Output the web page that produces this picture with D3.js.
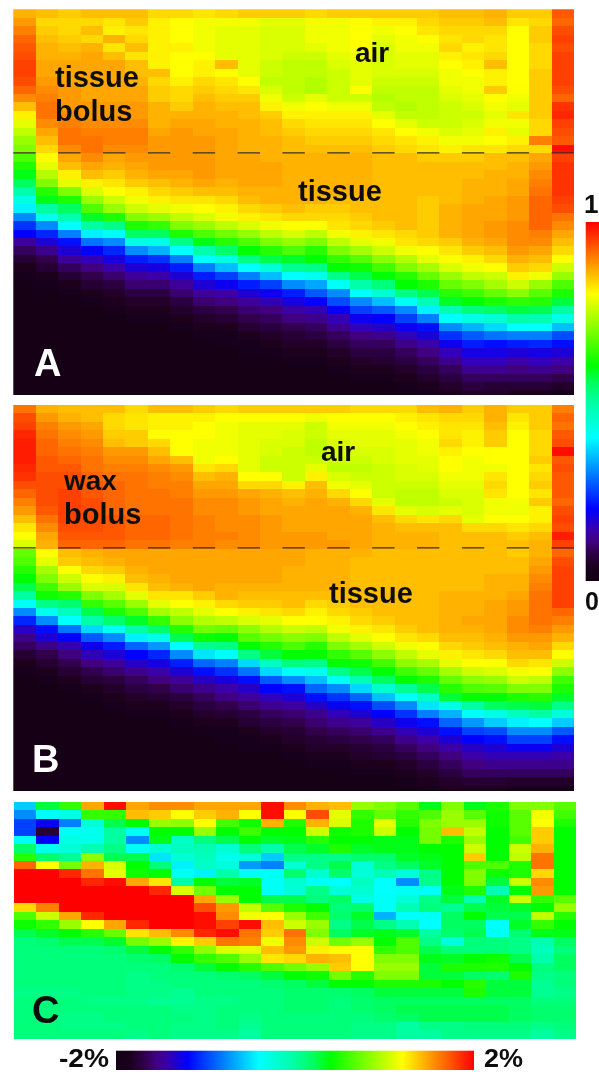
<!DOCTYPE html>
<html>
<head>
<meta charset="utf-8">
<script src="https://cdn.jsdelivr.net/npm/d3@7"></script>
<style>
  html, body { margin: 0; padding: 0; background: #fff; overflow: hidden; }
  text { font-family: "Liberation Sans", Arial, sans-serif; font-weight: bold; }
</style>
</head>
<body>
<div id="chart"></div>
<script>
// colour index 0-100, one array per column, top row first

// panel A, tissue bolus
var tissueBolus = [
[86,88,90,92,93,94,95,95,94,92,89,85,81,78,75,72,70,66,62,59,55,49,43,39,31,24,20,13,9,6,4,3,2,2,2,1,1,1,1,1,1,1,1,1,1,1],
[85,83,84,85,86,86,87,87,88,89,90,91,91,89,87,85,83,80,78,74,70,63,59,50,42,31,23,17,12,8,6,4,3,2,2,2,1,1,1,1,1,1,1,1,1,1],
[84,83,83,84,85,86,87,87,87,88,88,88,89,90,91,91,89,87,85,81,78,70,62,55,48,40,30,21,17,13,9,6,4,3,2,2,2,1,1,1,1,1,1,1,1,1],
[85,83,85,83,86,87,87,87,87,87,87,88,88,89,90,91,91,89,87,85,81,77,72,66,58,50,39,29,20,15,11,8,6,4,3,2,2,1,1,1,1,1,1,1,1,1],
[85,82,81,86,82,85,87,87,87,87,87,88,88,89,90,90,89,87,86,84,82,80,76,72,62,52,41,31,23,18,14,10,7,5,4,3,2,2,1,1,1,1,1,1,1,1],
[85,84,82,83,85,82,85,85,86,87,87,88,88,89,90,90,89,88,87,86,84,81,79,76,70,62,55,43,31,22,17,13,10,7,5,4,3,2,2,1,1,1,1,1,1,1],
[83,81,81,81,81,81,81,85,83,84,84,86,86,86,87,88,88,88,88,87,85,83,81,78,72,64,55,43,34,24,18,14,10,7,5,4,3,2,2,1,1,1,1,1,1,1],
[83,80,80,80,81,80,80,80,81,83,83,84,86,87,88,88,88,88,88,87,86,84,82,79,75,70,62,52,40,30,22,17,13,10,7,5,4,3,2,2,1,1,1,1,1,1],
[82,79,79,79,79,80,81,81,83,84,85,86,86,87,87,88,88,88,88,88,87,85,82,80,77,72,66,59,49,40,30,22,17,13,10,7,5,4,3,2,2,1,1,1,1,1],
[83,79,78,78,78,78,85,80,82,83,84,85,86,86,87,87,87,87,87,87,86,85,83,81,79,75,69,63,54,43,35,25,19,14,11,8,6,4,3,3,2,2,1,1,1,1],
[84,79,78,78,78,78,78,78,80,82,84,85,85,86,86,86,86,87,87,87,87,86,85,83,81,77,72,66,60,52,40,30,22,17,13,10,8,6,4,3,3,2,2,1,1,1],
[84,78,77,77,77,77,76,76,75,77,79,81,84,85,85,86,86,86,87,87,87,86,86,84,82,79,75,70,63,56,44,35,25,19,15,11,9,7,5,4,3,2,2,1,1,1],
[84,78,77,77,77,76,75,75,75,75,76,79,81,83,84,85,85,86,86,86,86,86,86,85,83,80,77,72,66,58,51,40,31,22,18,14,11,8,6,5,4,3,2,2,1,1],
[83,79,79,79,78,76,75,75,74,74,78,80,81,82,83,84,85,86,86,86,86,86,86,84,83,80,75,70,63,60,52,42,33,27,20,15,12,9,7,5,4,3,2,2,1,1],
[84,79,79,79,79,78,77,76,76,76,76,79,81,82,83,84,85,86,86,86,86,86,85,84,83,82,79,75,70,64,60,52,41,31,26,20,15,12,9,7,5,4,3,2,2,1],
[84,80,80,80,80,79,78,78,78,80,76,79,81,82,83,84,85,86,86,86,86,86,85,85,84,83,81,78,73,67,61,56,49,40,31,25,19,15,11,9,7,5,4,3,2,2],
[84,81,79,78,77,77,77,77,76,75,74,75,78,80,82,83,84,85,85,85,85,85,85,85,85,84,82,79,76,71,65,60,53,45,35,27,20,16,12,9,7,6,4,3,2,2],
[84,81,80,79,79,78,78,77,76,75,75,74,75,78,80,82,83,85,85,85,85,85,85,85,85,85,83,82,79,74,70,63,60,52,41,31,25,19,15,12,9,7,5,4,3,2],
[84,83,82,80,79,78,78,77,76,75,75,75,75,76,79,81,82,84,85,85,85,85,84,84,84,84,84,83,80,78,73,68,62,56,48,39,30,21,17,14,11,9,7,5,4,3],
[85,84,83,82,83,81,80,79,79,78,77,76,76,76,77,79,81,84,85,85,85,85,85,86,86,86,86,84,82,80,77,72,68,63,58,48,40,31,24,19,15,12,9,7,5,4],
[85,84,83,83,81,82,81,80,79,79,78,77,76,77,78,79,82,84,85,85,86,86,86,87,87,87,87,86,84,81,79,75,70,65,60,53,43,34,27,22,18,15,12,9,7,5],
[86,85,83,82,82,83,85,81,81,84,80,79,78,79,81,80,82,85,85,86,86,86,87,87,87,88,88,87,85,83,80,76,73,68,62,55,44,37,29,21,18,15,12,9,6,5],
[84,82,80,80,80,80,80,80,80,80,79,78,82,79,78,81,83,85,86,86,87,87,88,88,88,89,89,89,88,86,84,81,76,71,64,57,49,40,30,22,17,14,11,9,6,4],
[84,83,84,84,83,83,83,84,84,84,84,84,84,83,83,90,83,87,88,89,90,91,92,92,92,92,90,89,87,85,83,79,72,67,63,56,48,40,30,23,18,15,12,9,6,4],
[93,92,94,95,94,95,95,95,95,94,92,96,97,95,94,93,99,95,96,96,96,96,95,94,91,89,87,85,83,80,76,72,66,62,57,50,43,35,26,21,17,14,11,8,5,3]
];

// panel B, wax bolus
var waxBolus = [
[91,94,95,97,98,98,98,97,96,94,92,90,88,85,82,80,77,68,66,63,60,56,50,41,31,23,16,12,9,6,4,3,2,2,2,1,1,1,1,1,1,1,1,1,1,1],
[86,88,90,91,92,92,93,93,94,94,94,94,93,91,89,87,86,80,78,73,70,65,61,52,42,31,21,17,12,8,6,4,3,2,2,2,1,1,1,1,1,1,1,1,1,1],
[85,86,88,89,90,91,92,93,94,94,95,95,95,95,94,93,92,85,84,80,76,72,63,54,47,40,29,20,15,11,8,6,4,3,2,2,2,1,1,1,1,1,1,1,1,1],
[85,85,87,88,89,90,91,91,92,93,93,94,94,94,94,93,92,86,85,83,80,77,70,64,56,49,37,27,19,15,11,8,6,4,3,2,2,1,1,1,1,1,1,1,1,1],
[85,83,83,84,85,88,89,90,91,92,92,92,92,93,93,93,92,87,86,84,81,77,73,67,62,54,41,31,22,17,13,10,7,5,4,3,2,2,1,1,1,1,1,1,1,1],
[83,82,82,84,84,88,89,90,91,91,91,91,91,92,92,92,91,87,87,86,85,82,78,72,66,58,49,39,28,20,16,12,9,7,5,4,3,2,2,1,1,1,1,1,1,1],
[85,81,81,80,83,85,87,89,90,90,91,91,91,92,92,92,91,87,87,87,86,85,82,78,73,64,54,42,32,23,18,14,11,8,6,4,3,2,2,1,1,1,1,1,1,1],
[85,81,81,80,80,80,85,88,89,90,90,91,91,91,91,91,90,87,87,87,87,86,82,80,75,71,63,56,40,31,22,17,13,10,7,5,4,3,2,2,1,1,1,1,1,1],
[84,81,80,80,79,79,79,82,85,87,88,89,89,90,90,90,90,87,87,87,87,87,84,81,78,74,69,61,51,38,28,21,16,12,9,7,5,4,3,2,2,1,1,1,1,1],
[83,80,79,79,79,79,80,83,86,87,88,89,89,89,89,90,89,87,87,87,87,86,86,83,80,75,68,60,52,41,30,24,18,14,11,8,6,4,3,3,2,2,1,1,1,1],
[84,80,78,78,78,78,78,78,80,83,87,88,88,89,89,89,89,87,87,87,87,86,85,84,81,77,71,67,60,52,37,29,21,16,13,10,7,6,4,3,3,2,2,1,1,1],
[84,80,78,78,77,77,76,76,80,83,86,87,87,88,88,88,88,87,87,87,87,86,85,84,82,78,74,69,63,57,46,37,27,20,15,12,9,7,5,4,3,2,2,1,1,1],
[84,80,78,77,77,76,76,76,76,81,85,86,87,87,87,88,88,87,87,86,86,86,85,85,83,80,76,71,66,60,53,41,31,21,17,13,10,8,6,5,4,3,2,2,1,1],
[84,79,76,76,75,75,76,78,81,85,86,87,87,87,87,88,88,86,86,86,86,86,85,83,81,80,75,70,63,60,52,42,35,28,21,16,12,10,8,6,5,4,3,2,2,1],
[84,80,79,78,77,77,76,75,77,79,83,86,87,87,87,87,88,86,86,86,86,86,85,84,83,81,79,75,70,64,60,52,41,31,24,19,15,12,9,7,5,4,3,2,2,1],
[83,80,79,78,78,77,76,75,76,78,80,83,86,87,87,87,87,86,85,85,85,85,85,85,84,83,81,78,73,67,61,56,48,37,28,21,17,13,10,8,6,5,4,3,2,2],
[83,80,79,78,78,77,77,76,76,76,76,78,82,85,86,86,86,85,85,85,85,85,85,85,85,84,82,80,76,71,65,60,55,45,35,26,20,16,12,9,7,6,4,3,2,2],
[83,81,80,79,78,78,78,77,77,76,75,75,78,83,85,86,86,85,85,85,85,85,85,85,85,85,84,82,79,75,71,65,60,51,41,31,24,19,15,12,9,7,5,4,3,2],
[85,82,81,80,79,79,78,78,77,76,75,75,77,82,85,86,86,85,85,85,85,85,85,85,85,85,85,83,80,78,73,68,62,56,46,38,30,21,17,14,11,9,7,5,4,3],
[86,83,82,82,83,81,80,80,79,78,77,76,78,83,85,85,85,85,85,85,85,85,86,86,86,86,86,85,83,81,78,73,68,63,57,43,34,28,21,17,14,11,9,7,5,4],
[84,83,82,81,81,80,79,79,79,78,77,77,77,78,83,85,85,85,85,85,85,85,86,86,86,87,86,85,84,82,80,76,71,66,60,50,41,32,25,20,16,14,11,9,6,4],
[86,86,85,84,84,80,80,79,82,83,82,79,79,80,83,85,85,85,85,85,86,86,86,87,87,87,87,86,85,83,80,77,72,67,60,55,43,36,26,21,17,15,12,9,6,4],
[84,82,81,80,80,80,80,80,80,80,80,79,79,80,82,84,85,84,85,85,86,86,87,88,88,89,89,88,86,85,83,79,76,70,62,56,47,39,31,25,19,15,12,9,5,3],
[84,84,84,83,83,83,84,82,83,84,82,84,81,81,83,85,86,86,87,88,89,90,91,91,91,91,90,88,87,85,82,80,75,70,63,57,50,40,31,25,19,15,12,9,5,3],
[90,92,91,93,94,99,93,94,93,93,93,92,94,95,94,98,95,92,94,95,95,95,95,95,92,90,88,86,83,80,76,71,65,62,58,52,44,36,27,21,17,14,12,9,5,3]
];

// panel C, difference of A and B, one array per row
var diffRows = [
[36,57,64,87,99,87,89,89,87,87,87,99,89,86,85,72,70,67,59,70,59,62,70,70,67],
[31,41,43,64,64,85,84,80,84,86,80,99,80,94,78,64,68,64,66,72,67,61,67,79,65],
[25,19,30,44,56,60,72,71,80,65,61,86,62,86,77,62,78,63,70,72,72,61,67,80,62],
[25,6,41,42,50,41,60,60,72,60,65,60,60,76,61,62,76,60,69,85,75,60,67,84,60],
[41,20,43,42,50,31,59,46,53,56,60,58,59,63,60,60,59,59,69,62,72,60,65,84,60],
[54,42,44,48,52,41,44,47,48,45,53,49,56,58,62,58,59,59,60,60,76,60,76,86,60],
[63,54,51,71,56,56,38,44,47,42,44,36,52,52,52,54,54,58,59,60,84,60,75,91,60],
[92,80,69,86,77,60,53,39,46,44,32,30,44,52,56,44,52,55,58,60,66,66,62,91,60],
[100,100,97,91,78,61,60,41,39,49,41,41,54,45,54,44,48,44,52,60,70,61,62,83,60],
[100,100,100,97,99,87,82,49,60,57,58,41,45,41,40,47,40,31,52,60,70,57,76,89,60],
[100,100,100,100,100,100,97,77,69,60,60,41,44,52,44,45,40,41,41,59,62,48,60,88,60],
[100,100,100,100,100,100,100,100,87,72,60,56,56,53,55,43,41,44,52,57,48,58,76,64,67],
[83,90,100,100,100,100,100,100,94,88,75,67,62,60,53,54,41,48,53,51,56,57,58,60,72],
[66,76,87,97,100,100,100,100,99,89,79,80,72,65,54,58,34,40,41,55,60,56,56,75,63],
[61,64,72,80,87,97,100,100,99,95,99,85,76,72,52,56,52,48,40,55,55,40,58,64,60],
[56,58,60,63,68,82,85,89,97,99,91,84,91,70,55,58,59,58,50,54,56,41,54,59,59],
[53,54,56,56,58,69,72,81,84,91,90,79,89,76,69,72,60,66,52,44,53,53,52,48,55],
[53,53,53,53,54,57,60,64,71,77,78,85,88,81,80,80,64,66,56,53,53,53,52,47,53],
[53,53,53,53,53,54,55,60,64,66,72,82,83,86,85,80,70,70,59,58,60,61,56,49,55],
[53,53,53,53,53,53,53,54,57,60,63,66,69,72,84,80,72,72,57,62,62,62,60,53,55],
[53,53,53,53,53,52,53,53,53,54,55,57,60,61,69,63,70,70,57,57,55,54,62,52,53],
[53,53,53,53,53,52,52,53,53,53,53,54,55,57,60,60,62,62,62,60,63,57,57,51,53],
[52,52,52,53,53,52,52,51,53,53,53,53,54,54,54,55,57,57,57,57,62,57,57,51,52],
[53,53,53,52,52,52,51,51,52,52,53,53,54,54,53,54,55,55,55,55,55,55,55,53,53],
[53,53,53,53,53,53,53,52,52,53,53,53,54,54,53,54,55,56,56,56,56,56,55,54,54],
[53,53,52,52,53,53,53,53,52,53,52,53,53,53,53,53,54,55,56,56,56,56,55,54,54],
[53,53,52,52,52,53,53,52,52,53,51,53,53,53,53,52,52,50,52,52,53,53,53,52,53],
[53,53,53,53,53,52,53,52,52,52,50,53,53,53,53,52,52,50,50,52,52,52,52,50,52]
];

var colourStops = [0, 4, 8, 11, 14, 20, 40, 50, 55, 60, 80, 100];
var colourNames = ['#140014', '#1a001e', '#30004c', '#400080', '#3a00a8', '#0000ff', '#00ffff', '#00ffa0', '#00ff60', '#00ff00', '#ffff00', '#ff0000'];

var doseLabels = ['1', '0'];
var diffLabels = ['-2%', '2%'];

var pageWidth = 599, pageHeight = 1072;
var rowPitch = 8.47;

var svg = d3.select('#chart')
    .append('svg')
    .attr('width', pageWidth)
    .attr('height', pageHeight);

var defs = svg.append('defs');

defs.append('filter')
    .attr('id', 'soft')
    .append('feGaussianBlur')
    .attr('stdDeviation', 0.7);

defs.append('filter')
    .attr('id', 'softText')
    .append('feGaussianBlur')
    .attr('stdDeviation', 0.35);

var colour = d3.scaleLinear().domain(colourStops).range(colourNames);

function addGradient(id, x2, y2) {
    var grad = defs.append('linearGradient')
        .attr('id', id)
        .attr('x1', 0).attr('y1', y2 ? 1 : 0)
        .attr('x2', x2).attr('y2', 0);
    grad.selectAll('stop')
        .data(colourStops)
        .enter()
        .append('stop')
        .attr('offset', function(d) { return d + '%'; })
        .attr('stop-color', function(d) { return colour(d); });
}
addGradient('barVertical', 0, 1);
addGradient('barHorizontal', 1, 0);

function drawPanel(id, columns, left, right, top, bottom) {
    var nRows = columns[0].length;
    var x = d3.scaleBand().domain(d3.range(columns.length)).range([left, right]);
    var y = d3.scaleBand().domain(d3.range(nRows)).range([top, top + nRows * rowPitch]);

    defs.append('clipPath').attr('id', 'clip' + id)
        .append('rect')
        .attr('x', left).attr('y', top)
        .attr('width', right - left).attr('height', bottom - top);

    var g = svg.append('g')
        .attr('clip-path', 'url(#clip' + id + ')')
        .append('g')
        .attr('filter', 'url(#soft)');

    columns.forEach(function(col, c) {
        g.selectAll('.c' + c)
            .data(col)
            .enter()
            .append('rect')
            .attr('x', x(c))
            .attr('y', function(d, r) { return y(r); })
            .attr('width', x.bandwidth() + 0.6)
            .attr('height', y.bandwidth() + 0.6)
            .attr('shape-rendering', 'crispEdges')
            .attr('fill', function(d) { return colour(d); });
    });
    return x;
}

function dashedLine(x, yPos) {
    var step = x.bandwidth();
    svg.append('line')
        .attr('x1', x.range()[0]).attr('x2', x.range()[1])
        .attr('y1', yPos).attr('y2', yPos)
        .attr('stroke', '#3a3028')
        .attr('stroke-width', 1.2)
        .attr('stroke-dasharray', step + ' ' + step);
}

function label(str, xPos, yPos, size, fill, len) {
    var t = svg.append('text')
        .attr('x', xPos).attr('y', yPos)
        .attr('font-size', size)
        .attr('fill', fill || '#111')
        .attr('filter', 'url(#softText)')
        .text(str);
    if (len) t.attr('textLength', len).attr('lengthAdjust', 'spacingAndGlyphs');
}

var xA = drawPanel('A', tissueBolus, 13.3, 574, 9.3, 395);
var xB = drawPanel('B', waxBolus, 13.3, 574, 404.7, 791);
drawPanel('C', d3.transpose(diffRows), 14, 576, 801.7, 1040.5);

dashedLine(xA, 152.8);
dashedLine(xB, 547.8);

// panel A text
label('tissue', 55, 87, 29);
label('bolus', 55, 121, 29);
label('air', 355, 62, 28);
label('tissue', 298, 201, 29);
label('A', 34, 376, 38, '#fff');

// panel B text
label('wax', 64, 490, 28);
label('bolus', 64, 524, 29);
label('air', 321, 461, 28);
label('tissue', 329, 603, 29);
label('B', 32, 772, 38, '#fff');

// panel C text
label('C', 32, 1023, 38);

// colour bars
svg.append('rect')
    .attr('x', 585.7).attr('y', 222)
    .attr('width', 14).attr('height', 359)
    .attr('fill', 'url(#barVertical)');
label(doseLabels[0], 584, 213, 26);
label(doseLabels[1], 585, 610, 25);

svg.append('rect')
    .attr('x', 116).attr('y', 1050.7)
    .attr('width', 358).attr('height', 19.3)
    .attr('fill', 'url(#barHorizontal)');
label(diffLabels[0], 59, 1066.5, 25.5, '#111', 50);
label(diffLabels[1], 484, 1066.5, 25.5, '#111', 39);
</script>
</body>
</html>
